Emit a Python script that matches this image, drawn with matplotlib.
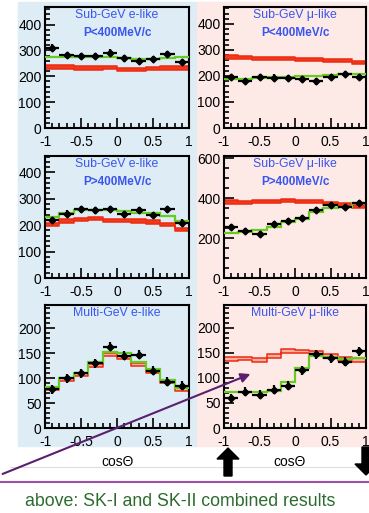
import numpy as np
import matplotlib
matplotlib.use("Agg")
import matplotlib.pyplot as plt
from matplotlib.patches import Rectangle, FancyArrow, FancyArrowPatch
from matplotlib.lines import Line2D
from matplotlib.ticker import MultipleLocator

plt.rcParams['font.family'] = ['Liberation Sans', 'DejaVu Sans']

edges = np.linspace(-1, 1, 11)
centers = 0.5 * (edges[:-1] + edges[1:])

# data points (black), MC with oscillation (green), MC without oscillation (red)
sub_e_lo_data = [311, 283, 277, 279, 292, 269, 258, 267, 286, 256]
sub_e_lo_osc = [276, 276, 275, 274, 273, 270, 265, 268, 272, 274]
sub_e_lo_null = [236, 236, 232, 232, 233, 227, 225, 230, 232, 232]

sub_mu_lo_data = [195, 180, 197, 194, 191, 189, 179, 195, 208, 195]
sub_mu_lo_osc = [188, 190, 193, 195, 197, 199, 201, 203, 206, 208]
sub_mu_lo_null = [273, 271, 268, 268, 266, 264, 263, 260, 258, 253]

sub_e_hi_data = [220, 244, 260, 256, 262, 241, 256, 239, 260, 210]
sub_e_hi_osc = [232, 247, 256, 256, 256, 252, 247, 245, 235, 214]
sub_e_hi_null = [202, 216, 222, 226, 219, 219, 216, 212, 202, 185]

sub_mu_hi_data = [254, 233, 218, 269, 287, 300, 341, 364, 357, 377]
sub_mu_hi_osc = [226, 230, 238, 256, 279, 295, 328, 348, 357, 377]
sub_mu_hi_null = [380, 377, 382, 382, 387, 384, 382, 374, 366, 357]

multi_e_data = [78, 100, 110, 130, 163, 145, 147, 115, 93, 85]
multi_e_osc = [83, 101, 111, 132, 153, 150, 133, 118, 97, 80]
multi_e_null = [80, 97, 107, 125, 147, 142, 127, 113, 93, 77]

multi_mu_data = [59, 72, 66, 76, 84, 115, 147, 139, 132, 153]
multi_mu_osc = [72, 72, 72, 74, 91, 120, 143, 142, 137, 139]
multi_mu_null = [137, 138, 135, 143, 153, 152, 150, 143, 137, 135]

W, H = 369, 513
fig = plt.figure(figsize=(W / 100, H / 100), dpi=100)

blue_bg = '#ddecf5'
pink_bg = '#fde9e6'
fig.patches.append(Rectangle((18 / W, 1 - 446 / H), 179 / W, 444 / H,
                             transform=fig.transFigure, color=blue_bg, zorder=-2))
fig.patches.append(Rectangle((197 / W, 1 - 446 / H), 172 / W, 444 / H,
                             transform=fig.transFigure, color=pink_bg, zorder=-2))

cols = [(45, 144), (224, 142)]
rows = [(7, 128), (156, 278), (305, 428)]

panels = [
    ("Sub-GeV e-like", "P<400MeV/c", sub_e_lo_data, sub_e_lo_osc, sub_e_lo_null, 468, 100, 20, 12, 6),
    ("Sub-GeV μ-like", "P<400MeV/c", sub_mu_lo_data, sub_mu_lo_osc, sub_mu_lo_null, 465, 100, 20, 12, 6),
    ("Sub-GeV e-like", "P>400MeV/c", sub_e_hi_data, sub_e_hi_osc, sub_e_hi_null, 462, 100, 20, 12, 6),
    ("Sub-GeV μ-like", "P>400MeV/c", sub_mu_hi_data, sub_mu_hi_osc, sub_mu_hi_null, 610, 200, 50, 15, 8),
    ("Multi-GeV e-like", None, multi_e_data, multi_e_osc, multi_e_null, 247, 50, 10, 9, 3),
    ("Multi-GeV μ-like", None, multi_mu_data, multi_mu_osc, multi_mu_null, 245, 50, 10, 9, 3.5),
]

for i, (t1, t2, data, osc, null, ymax, maj, mnr, yerr, band) in enumerate(panels):
    r, c = divmod(i, 2)
    x0, w = cols[c]
    top, bot = rows[r]
    ax = fig.add_axes([x0 / W, 1 - bot / H, w / W, (bot - top) / H])
    ax.set_zorder(1)
    ax.patch.set_alpha(0)
    ax.set_xlim(-1, 1)
    ax.set_ylim(0, ymax)

    null = np.array(null, dtype=float)
    lo = np.append(null - band, null[-1] - band)
    hi = np.append(null + band, null[-1] + band)
    face = '#f03a1c' if r < 2 else '#f8b0a0'
    ax.fill_between(edges, lo, hi, step='post', facecolor=face,
                    edgecolor='#ee2a10', linewidth=1.1, zorder=2)
    ax.stairs(osc, edges, baseline=None, color='#66cc22', linewidth=1.6, zorder=3)
    ax.errorbar(centers, data, xerr=0.1, yerr=yerr, fmt='D', color='black',
                ms=3.5, elinewidth=1.6, capsize=0, zorder=4)

    ax.xaxis.set_minor_locator(MultipleLocator(0.1))
    ax.yaxis.set_major_locator(MultipleLocator(maj))
    ax.yaxis.set_minor_locator(MultipleLocator(mnr))
    ax.set_xticks([-1, -0.5, 0, 0.5, 1])
    ax.set_xticklabels(['-1', '-0.5', '0', '0.5', '1'])
    ax.tick_params(which='both', direction='in', top=False, right=False,
                   labelsize=10, width=1.2)
    ax.tick_params(axis='x', pad=5)
    ax.tick_params(axis='y', pad=2.5)
    ax.tick_params(which='major', length=7)
    ax.tick_params(which='minor', length=3.5)
    for s in ax.spines.values():
        s.set_linewidth(1.5)

    ax.text(0.5, 0.934, t1, transform=ax.transAxes, ha='center', va='center',
            color='#3a55ee', fontsize=8.8)
    if t2:
        ax.text(0.5, 0.785, t2, transform=ax.transAxes, ha='center', va='center',
                color='#3a55ee', fontsize=8.5, fontweight='bold')

# bottom annotations
fig.text(118 / W, 1 - 462 / H, 'cosΘ', ha='center', va='center', fontsize=10)
fig.text(290 / W, 1 - 462 / H, 'cosΘ', ha='center', va='center', fontsize=10)
fig.lines.append(Line2D([10 / W, 1], [1 - 467 / H] * 2, transform=fig.transFigure,
                        color='#dddddd', lw=0.8))
fig.lines.append(Line2D([0, 1], [1 - 482 / H] * 2, transform=fig.transFigure,
                        color='#a050a8', lw=1.5))
fig.text(180 / W, 1 - 501 / H, 'above: SK-I and SK-II combined results',
         ha='center', va='center', fontsize=12.8, color='#2e6b2e')

# black block arrows
fig.patches.append(FancyArrow(228 / W, 1 - 476 / H, 0, 28 / H, width=8 / W,
                              head_width=22 / W, head_length=11 / H,
                              length_includes_head=True, transform=fig.transFigure,
                              color='black', zorder=5))
fig.patches.append(FancyArrow(366 / W, 1 - 447 / H, 0, -28 / H, width=8 / W,
                              head_width=22 / W, head_length=11 / H,
                              length_includes_head=True, transform=fig.transFigure,
                              color='black', zorder=5))

# purple pointer arrow
fig.patches.append(FancyArrowPatch((0, 1 - 475 / H), (253 / W, 1 - 373 / H),
                                   transform=fig.transFigure, arrowstyle='-|>',
                                   mutation_scale=14, color='#5a1f6e', lw=1.5,
                                   zorder=6))

fig.savefig('out.png', dpi=100)
